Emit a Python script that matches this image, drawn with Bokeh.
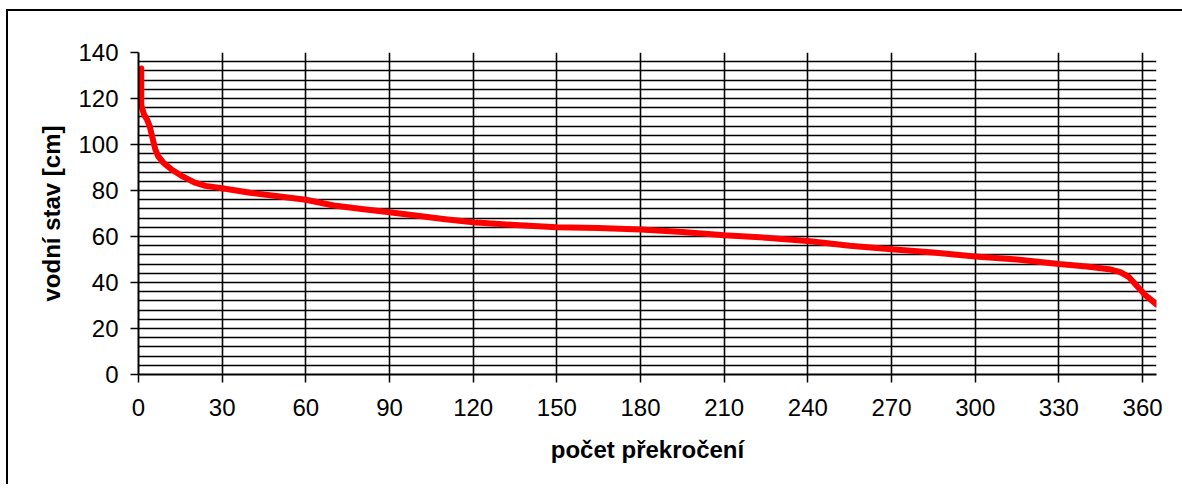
from bokeh.plotting import figure
from bokeh.models import SingleIntervalTicker, FixedTicker, Range1d
from bokeh.embed import file_html
from bokeh.resources import INLINE

# exceedance days and water level [cm]
days = [1, 1, 2, 3, 4, 5, 6, 7, 9, 12, 16, 20, 24, 30, 40, 50, 60, 70, 80, 90,
        100, 110, 120, 135, 150, 165, 180, 195, 210, 225, 240, 255, 270, 285,
        300, 315, 330, 340, 348, 352, 355, 358, 361, 365]
levels = [133, 117, 113, 111, 108, 103, 98, 95, 92, 89, 86, 83.5, 82, 81, 79,
          77.5, 76, 73.5, 72, 70.5, 69, 67.5, 66.2, 65, 64, 63.7, 63, 62, 60.5,
          59.5, 58, 56, 54.5, 53, 51.3, 50, 48, 47, 45.8, 44.5, 42.5, 38.5,
          34.5, 30.5]
x_ticks = [0, 30, 60, 90, 120, 150, 180, 210, 240, 270, 300, 330, 360]
y_ticks = [0, 20, 40, 60, 80, 100, 120, 140]

FONT = "Liberation Sans"

p = figure(
    output_backend="svg", toolbar_location=None,
    frame_width=1018, frame_height=322,
    min_border_left=130, min_border_top=41, min_border_right=26, min_border_bottom=110,
    x_range=Range1d(0, 365), y_range=Range1d(0, 140),
)
p.styles = {"border-left": "2px solid black", "border-top": "2px solid black",
            "margin-left": "6px", "margin-top": "9px"}
p.outline_line_color = None
p.background_fill_color = "white"
p.border_fill_color = "white"

p.line(days, levels, line_color="#ff0000", line_width=6, line_join="round", line_cap="round")

p.xaxis.ticker = FixedTicker(ticks=x_ticks)
p.yaxis.ticker = FixedTicker(ticks=y_ticks)
p.xgrid.ticker = FixedTicker(ticks=x_ticks)
p.ygrid.ticker = SingleIntervalTicker(interval=4)
for g in (p.xgrid, p.ygrid):
    g.grid_line_color = "black"
    g.grid_line_width = 1.6

for ax in (p.xaxis, p.yaxis):
    ax.axis_line_color = "black"
    ax.axis_line_width = 2
    ax.major_tick_line_color = "black"
    ax.major_tick_line_width = 1.5
    ax.major_tick_out = 8
    ax.major_tick_in = 0
    ax.minor_tick_line_color = None
    ax.major_label_text_font = FONT
    ax.major_label_text_font_size = "24px"
    ax.major_label_text_color = "black"
    ax.axis_label_text_font = FONT
    ax.axis_label_text_font_size = "24px"
    ax.axis_label_text_font_style = "bold"
    ax.axis_label_text_color = "black"

p.xaxis.axis_label = "počet překročení"
p.yaxis.axis_label = "vodní stav [cm]"
p.xaxis.major_label_standoff = 16
p.yaxis.major_label_standoff = 12
p.xaxis.axis_label_standoff = 17
p.yaxis.axis_label_standoff = 10

open("out.html", "w").write(file_html(p, INLINE))
